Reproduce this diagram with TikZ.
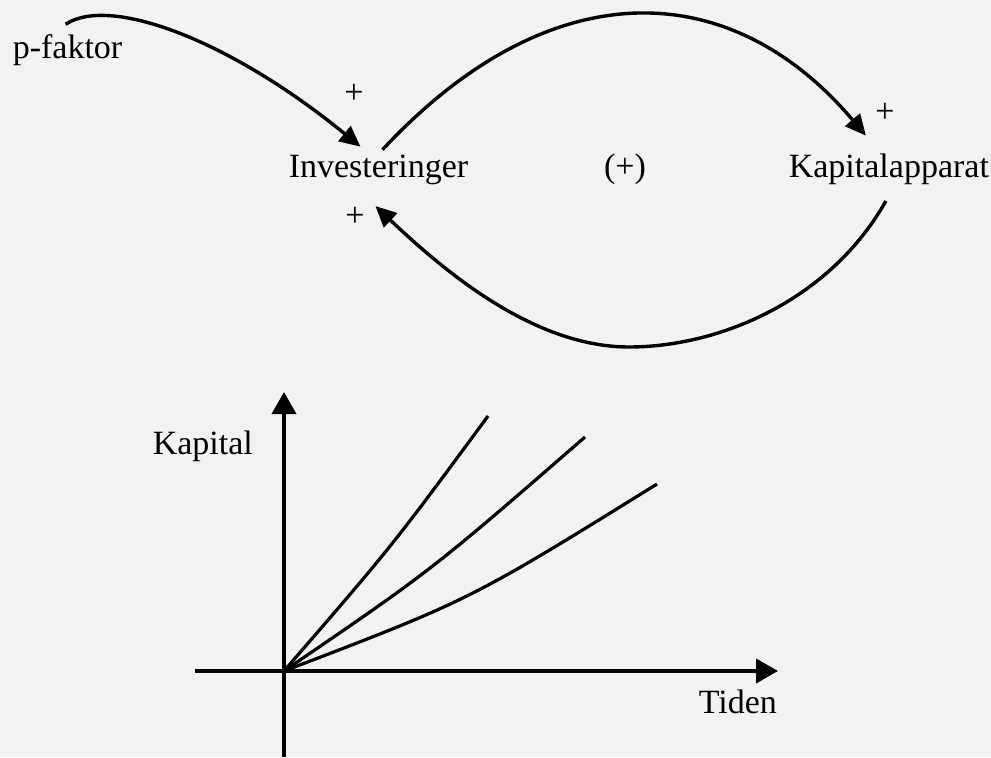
\documentclass[tikz,border=0pt]{standalone}
\usepackage{fontspec}
\setmainfont{Liberation Serif}
\usetikzlibrary{arrows.meta}

\begin{document}
\begin{tikzpicture}[x=0.25pt,y=-0.25pt,>={Triangle[length=5.2pt,width=4.8pt]},
  every node/.style={font=\fontsize{8.5}{10}\selectfont,inner sep=1pt},
  link/.style={->,line width=0.85pt},
  axis/.style={-{Triangle[length=5.5pt,width=6pt]},line width=0.95pt}]
\fill[black!5] (0,0) rectangle (991,757);
\useasboundingbox (0,0) rectangle (991,757);

% 1. sloyfe
\node[anchor=base west] (pfak) at (8,59) {p-faktor};
\node[anchor=base west] (inv) at (284,178) {Investeringer};
\node[anchor=base west] (kap) at (784,178) {Kapitalapparat};
\node[anchor=base] (loop) at (625,178) {(+)};
\node (p1) at (354,94) {+};
\node (p2) at (355,217) {+};
\node (p3) at (885,113) {+};
\coordinate (bot) at (629,347);
\draw[link] ([shift={(-2,-6)}]pfak.north) .. controls (110,-5) and (230,40) .. ([shift={(-18,-4)}]inv.north);
\draw[link] ([shift={(4,-1)}]inv.north) .. controls (550,-30) and (730,-25) .. ([shift={(-23,-14)}]kap.north);
\draw[link] ([shift={(-3,11)}]kap.south) .. controls (830,300) and (720,347) .. (bot)
  .. controls (530,347) and (438,265) .. ([shift={(-3,16)}]inv.south);

% 2. kapital over tid
\coordinate (O) at (284,671);
\coordinate (ytop) at (284,392);
\coordinate (ybot) at (284,757);
\coordinate (xl) at (195,671);
\coordinate (xr) at (778,671);
\draw[axis] (ybot) -- (ytop);
\draw[axis] (xl) -- (xr);
\node[anchor=base west] (kapital) at (148,454) {Kapital};
\node[anchor=base west] (tiden) at (694,713) {Tiden};
\foreach \ex/\ey/\cx/\cy in {488/416/393/545, 585/437/432/570, 657/484/470/600}
  \draw[line width=0.8pt] (O) .. controls (\cx,\cy) .. (\ex,\ey);
\end{tikzpicture}
\end{document}
